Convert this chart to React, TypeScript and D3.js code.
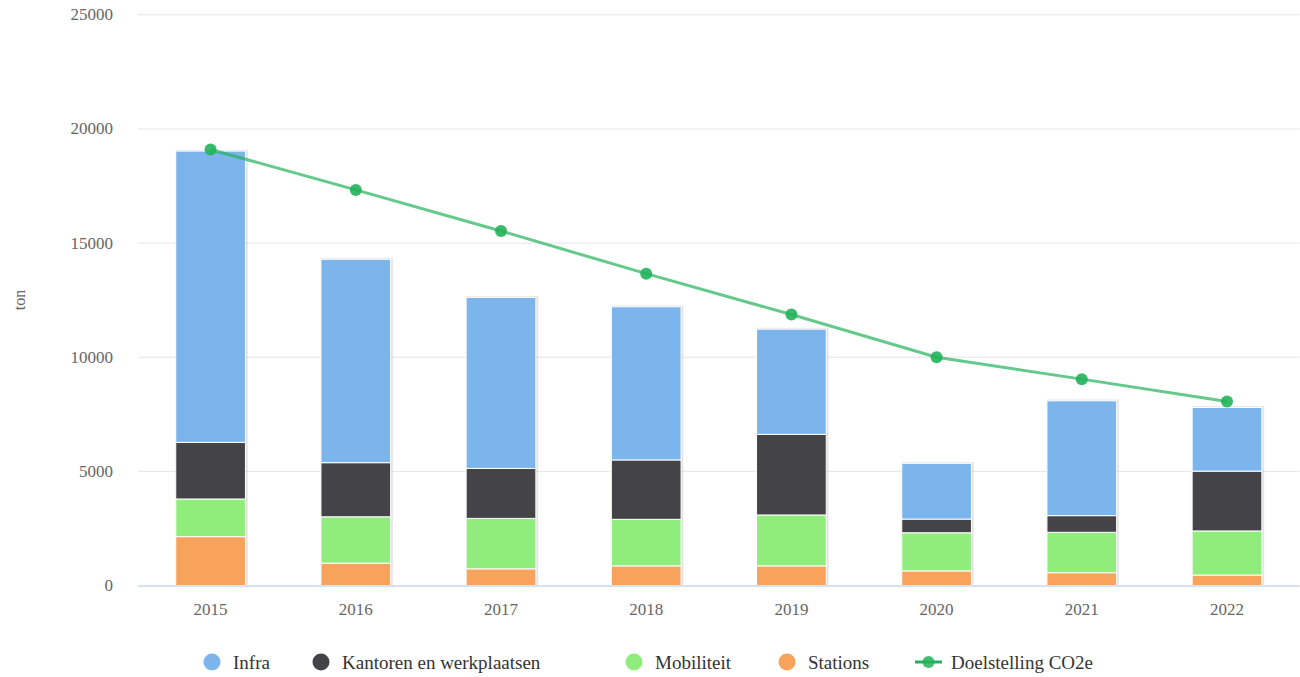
import React from "react";
import * as d3 from "d3";

const years = ["2015", "2016", "2017", "2018", "2019", "2020", "2021", "2022"];
const infra = [12760, 8910, 7490, 6710, 4610, 2440, 5030, 2790];
const kantoren = [2480, 2370, 2190, 2600, 3530, 600, 730, 2620];
const mobiliteit = [1650, 2030, 2210, 2040, 2230, 1670, 1770, 1930];
const stations = [2140, 980, 730, 860, 860, 640, 560, 460];
const doelstelling = [19100, 17330, 15530, 13660, 11870, 10000, 9040, 8060];
const yTicks = [0, 5000, 10000, 15000, 20000, 25000];

const seriesNames = ["Infra", "Kantoren en werkplaatsen", "Mobiliteit", "Stations"];
const seriesColors = ["#7cb5ec", "#434348", "#90ed7d", "#f7a35c"];
const lineName = "Doelstelling CO2e";
const lineColor = "#22b25a";

export default function App() {
  const W = 1300, H = 677;
  const left = 138, right = 1299.6, top = 14.8, bottom = 585.5;
  const x = d3.scaleBand().domain(years).range([left, right]).paddingInner(0).paddingOuter(0);
  const y = d3.scaleLinear().domain([0, 25000]).range([bottom, top]);
  const bw = x.bandwidth() * 0.6 * 0.8;

  const rows = years.map((yr, i) => ({
    year: yr,
    Stations: stations[i],
    Mobiliteit: mobiliteit[i],
    "Kantoren en werkplaatsen": kantoren[i],
    Infra: infra[i],
  }));
  const stackOrder = ["Stations", "Mobiliteit", "Kantoren en werkplaatsen", "Infra"];
  const stacked = d3.stack<any>().keys(stackOrder)(rows);
  const colorOf = (k: string) => seriesColors[seriesNames.indexOf(k)];

  const cx = (yr: string) => (x(yr) as number) + x.bandwidth() / 2;
  const line = d3
    .line<number>()
    .x((_, i) => cx(years[i]))
    .y((d) => y(d));

  const font = "Liberation Serif, Times New Roman, Times, serif";
  const ts = { fontFamily: font } as React.CSSProperties;

  const legendItems = [
    { name: "Infra", color: seriesColors[0], x: 212 },
    { name: "Kantoren en werkplaatsen", color: seriesColors[1], x: 321 },
    { name: "Mobiliteit", color: seriesColors[2], x: 634 },
    { name: "Stations", color: seriesColors[3], x: 787 },
  ];

  return (
    <svg width={W} height={H} style={{ position: "absolute", left: 0, top: 0, background: "#fff", fontFamily: font }}>
      {/* grid */}
      {yTicks.map((t) =>
        t === 0 ? null : (
          <line key={t} x1={left} x2={right} y1={y(t)} y2={y(t)} stroke="#e6e6e6" strokeWidth={1} />
        )
      )}
      {yTicks.map((t) => (
        <text key={"l" + t} style={ts} x={113} y={y(t)} textAnchor="end" dominantBaseline="central" fontSize={17} fill="#666">
          {t}
        </text>
      ))}
      <text
        style={ts}
        transform={`translate(19,300) rotate(-90)`}
        textAnchor="middle"
        dominantBaseline="central"
        fontSize={16}
        fill="#666"
      >
        ton
      </text>

      {/* bar shadows */}
      {years.map((yr, i) => {
        const topV = stations[i] + mobiliteit[i] + kantoren[i] + infra[i];
        const bx = cx(yr) - bw / 2;
        return (
          <g key={"sh" + yr}>
            <rect x={bx - 0.5} y={y(topV) - 1.5} width={bw + 3} height={bottom - y(topV) + 1.5} fill="#000" opacity={0.06} />
            <rect x={bx} y={y(topV) - 1} width={bw + 2} height={bottom - y(topV) + 1} fill="#000" opacity={0.05} />
          </g>
        );
      })}

      {/* stacked bars */}
      {stacked.map((s) => (
        <g key={s.key}>
          {s.map((d, i) => (
            <rect
              key={i}
              x={cx(years[i]) - bw / 2}
              y={y(d[1])}
              width={bw}
              height={y(d[0]) - y(d[1])}
              fill={colorOf(s.key)}
              stroke="#fff"
              strokeWidth={1}
            />
          ))}
        </g>
      ))}

      {/* x axis */}
      <line x1={left} x2={right} y1={bottom + 0.5} y2={bottom + 0.5} stroke="#ccd6eb" strokeWidth={1.5} />
      {years.map((yr) => (
        <text key={"x" + yr} style={ts} x={cx(yr)} y={615} textAnchor="middle" fontSize={17} fill="#666">
          {yr}
        </text>
      ))}

      {/* line */}
      <path d={line(doelstelling) || ""} fill="none" stroke={lineColor} strokeOpacity={0.7} strokeWidth={3} />
      {doelstelling.map((v, i) => (
        <circle key={"m" + i} cx={cx(years[i])} cy={y(v)} r={6} fill={lineColor} opacity={0.9} />
      ))}

      {/* legend */}
      {legendItems.map((it) => (
        <g key={it.name}>
          <circle cx={it.x} cy={662} r={8.5} fill={it.color} />
          <text style={ts} x={it.x + 21} y={662} dominantBaseline="central" fontSize={19} fill="#333">
            {it.name}
          </text>
        </g>
      ))}
      <g>
        <line x1={915} x2={942} y1={662} y2={662} stroke={lineColor} strokeWidth={3} />
        <circle cx={928.5} cy={662} r={6} fill={lineColor} opacity={0.85} />
        <text style={ts} x={951} y={662} dominantBaseline="central" fontSize={19} fill="#333">
          {lineName}
        </text>
      </g>
    </svg>
  );
}
